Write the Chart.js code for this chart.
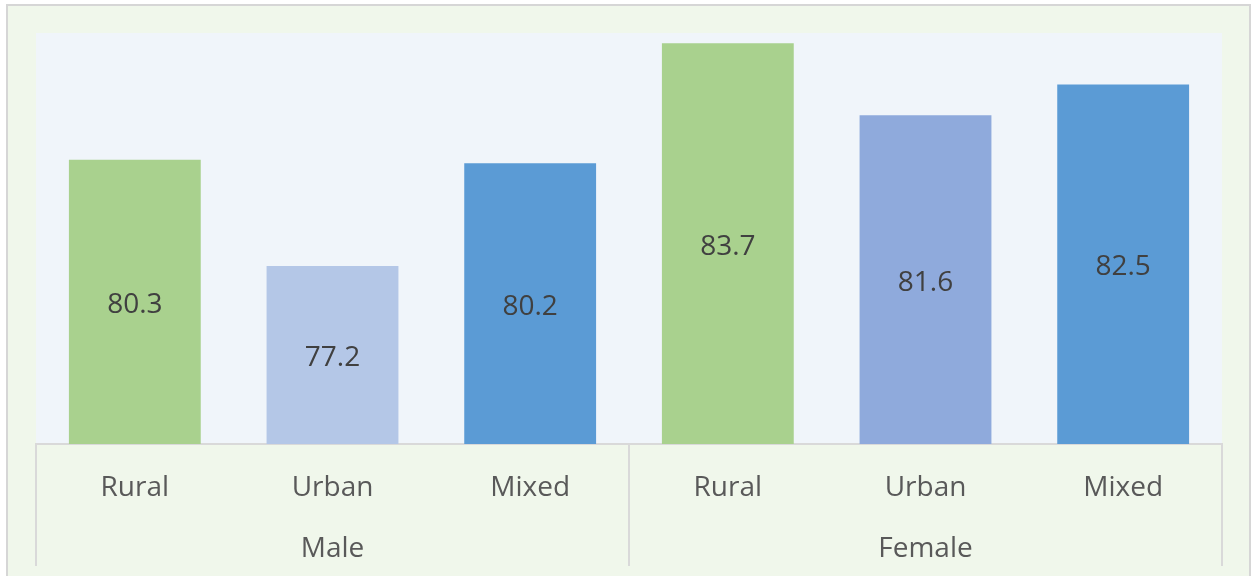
<!DOCTYPE html>
<html>
<head>
<meta charset="utf-8">
<script src="https://cdn.jsdelivr.net/npm/chart.js@4.4.1/dist/chart.umd.min.js"></script>
<style>
    html, body { margin: 0; padding: 0; background: #ffffff; }
    #wrap { width: 1252px; height: 576px; }
</style>
</head>
<body>
<div id="wrap"><canvas id="myBarChart" width="1252" height="576"></canvas></div>
<script>
// values (years) per area type, first three male, last three female
const areaTypes = ['Rural', 'Urban', 'Mixed', 'Rural', 'Urban', 'Mixed'];
const sexGroups = ['Male', 'Female'];
const lifeYears = [80.3, 77.2, 80.2, 83.7, 81.6, 82.5];
const yTicks = [72, 84];

const barColors = ['#a9d18e', '#b4c7e7', '#5b9bd5', '#a9d18e', '#8faadc', '#5b9bd5'];
const FONT = '"Open Sans", "Noto Sans", sans-serif';

// green frame behind everything and the blue plot area
const frameBg = {
    id: 'frameBg',
    beforeDraw(chart) {
        const ctx = chart.ctx;
        const area = chart.chartArea;
        ctx.save();
        ctx.fillStyle = '#ffffff';
        ctx.fillRect(0, 0, chart.width, chart.height);
        ctx.fillStyle = '#f0f7eb';
        ctx.fillRect(7, 5, 1243, chart.height - 5);
        ctx.strokeStyle = '#d6d6d6';
        ctx.lineWidth = 2;
        ctx.beginPath();
        ctx.moveTo(7, chart.height);
        ctx.lineTo(7, 5);
        ctx.lineTo(1250, 5);
        ctx.lineTo(1250, chart.height);
        ctx.stroke();
        ctx.fillStyle = '#f0f5fa';
        ctx.fillRect(area.left, area.top, area.right - area.left, area.bottom - area.top);
        ctx.restore();
    }
};

// separators between the Male / Female groups, plus the value in each bar
const overlay = {
    id: 'overlay',
    afterDraw(chart) {
        const x = chart.scales.x;
        const x2 = chart.scales.x2;
        const y = chart.scales.y;
        const ctx = chart.ctx;
        const mid = (x.getPixelForValue(2) + x.getPixelForValue(3)) / 2;

        ctx.save();
        ctx.strokeStyle = '#d9d9d9';
        ctx.lineWidth = 2;
        [chart.chartArea.left, mid, chart.chartArea.right].forEach(px => {
            ctx.beginPath();
            ctx.moveTo(px, x.top);
            ctx.lineTo(px, x2.bottom);
            ctx.stroke();
        });

        ctx.font = '28px ' + FONT;
        ctx.fillStyle = '#404040';
        ctx.textAlign = 'center';
        ctx.textBaseline = 'middle';
        lifeYears.forEach((v, i) => {
            const top = y.getPixelForValue(v);
            const cx = x.getPixelForValue(i);
            ctx.fillText(v.toFixed(1), cx, (top + y.bottom) / 2 + 3);
        });
        ctx.restore();
    }
};

function render() {
    const config = {
        type: 'bar',
        data: {
            labels: areaTypes,
            datasets: [{
                data: lifeYears,
                backgroundColor: barColors,
                borderWidth: 0,
                categoryPercentage: 1,
                barPercentage: 0.667
            }]
        },
        options: {
            responsive: false,
            animation: false,
            events: [],
            layout: { padding: { left: 36, right: 30, top: 33, bottom: 10 } },
            plugins: {
                legend: { display: false },
                tooltip: { enabled: false },
                title: { display: false }
            },
            scales: {
                y: {
                    display: false,
                    min: yTicks[0],
                    max: yTicks[1]
                },
                x: {
                    position: 'bottom',
                    grid: { display: false, drawTicks: false },
                    border: { display: true, color: '#d9d9d9', width: 2 },
                    ticks: {
                        color: '#595959',
                        padding: 27,
                        font: { family: FONT, size: 28 }
                    },
                    afterFit(scale) { scale.height = 61; }
                },
                x2: {
                    type: 'category',
                    position: 'bottom',
                    labels: sexGroups,
                    offset: true,
                    grid: { display: false, drawTicks: false },
                    border: { display: false },
                    ticks: {
                        color: '#595959',
                        padding: 27,
                        font: { family: FONT, size: 28 }
                    },
                    afterFit(scale) { scale.height = 61; }
                }
            }
        },
        plugins: [frameBg, overlay]
    };
    new Chart(document.getElementById('myBarChart'), config);
}

document.fonts.load('28px "Open Sans"').then(render, render);
</script>
</body>
</html>
